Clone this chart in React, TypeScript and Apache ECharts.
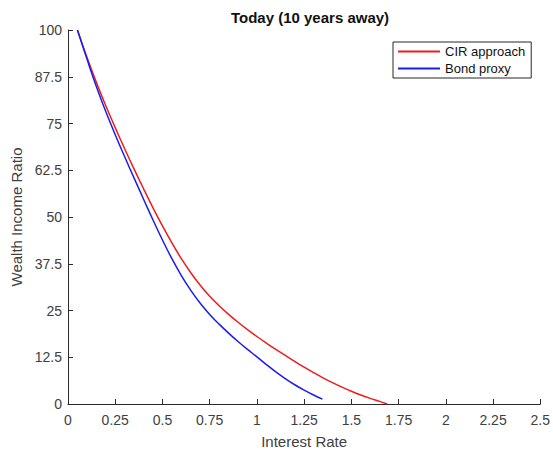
import React, { useEffect, useRef } from "react";
import * as echarts from "echarts";

const chartTitle = "Today (10 years away)";
const seriesNames = ["CIR approach", "Bond proxy"];

const cirRates = [0.05, 0.1, 0.15, 0.2, 0.25, 0.3, 0.35, 0.4, 0.45, 0.5, 0.55, 0.6, 0.65, 0.7, 0.75, 0.8, 0.85, 0.9, 0.95, 1.0, 1.05, 1.1, 1.15, 1.2, 1.25, 1.3, 1.35, 1.4, 1.45, 1.5, 1.55, 1.6, 1.65, 1.69];
const cirValues = [100, 92.75, 86.0, 79.75, 73.9, 68.25, 62.8, 57.55, 52.45, 47.6, 43.05, 38.85, 35.1, 31.75, 28.8, 26.25, 23.95, 21.85, 19.9, 18.05, 16.3, 14.6, 13.0, 11.4, 9.85, 8.4, 7.0, 5.7, 4.5, 3.4, 2.4, 1.5, 0.7, 0];

const bondRates = [0.05, 0.1, 0.15, 0.2, 0.25, 0.3, 0.35, 0.4, 0.45, 0.5, 0.55, 0.6, 0.65, 0.7, 0.75, 0.8, 0.85, 0.9, 0.95, 1.0, 1.05, 1.1, 1.15, 1.2, 1.25, 1.3, 1.347];
const bondValues = [100, 92.3, 84.9, 78.2, 72.0, 66.1, 60.4, 54.75, 49.2, 43.85, 38.85, 34.35, 30.4, 26.95, 23.95, 21.35, 18.95, 16.7, 14.6, 12.6, 10.55, 8.6, 6.8, 5.15, 3.7, 2.4, 1.3];

const xTicks = { min: 0, max: 2.5, interval: 0.25 };
const yTicks = { min: 0, max: 100, interval: 12.5 };

export default function App() {
  const ref = useRef<HTMLDivElement>(null);
  useEffect(() => {
    if (!ref.current) return;
    const chart = echarts.init(ref.current, null, { renderer: "svg" });
    const font = "Liberation Sans, Arial, sans-serif";
    const axisColor = "#2b2b2b";
    const textColor = "#404040";
    const red = "#ee1c1c";
    const blue = "#1c1cee";
    chart.setOption({
      animation: false,
      backgroundColor: "#ffffff",
      title: {
        text: chartTitle,
        left: 305,
        textAlign: "center",
        top: 5,
        textStyle: { fontFamily: font, fontSize: 15, fontWeight: "bold", color: "#111" },
      },
      legend: {
        orient: "vertical",
        left: 393,
        top: 42,
        padding: [3, 6, 3, 4],
        itemGap: 4,
        itemWidth: 42,
        itemHeight: 14,
        borderColor: "#262626",
        borderWidth: 1,
        backgroundColor: "#ffffff",
        itemStyle: { opacity: 0 },
        textStyle: { fontFamily: font, fontSize: 13, color: "#111" },
        data: seriesNames,
      },
      grid: { left: 68, right: 11, top: 30, bottom: 54, containLabel: false },
      xAxis: {
        type: "value",
        min: xTicks.min,
        max: xTicks.max,
        interval: xTicks.interval,
        name: "Interest Rate",
        nameLocation: "middle",
        nameGap: 30,
        nameTextStyle: { fontFamily: font, fontSize: 15, color: textColor },
        axisLine: { show: true, lineStyle: { color: axisColor, width: 1 } },
        axisTick: { show: true, inside: true, length: 5, lineStyle: { color: axisColor } },
        axisLabel: { fontFamily: font, fontSize: 14, color: textColor, margin: 9 },
        splitLine: { show: false },
      },
      yAxis: {
        type: "value",
        min: yTicks.min,
        max: yTicks.max,
        interval: yTicks.interval,
        name: "Wealth Income Ratio",
        nameLocation: "middle",
        nameGap: 41,
        nameTextStyle: { fontFamily: font, fontSize: 15, color: textColor },
        axisLine: { show: true, lineStyle: { color: axisColor, width: 1 } },
        axisTick: { show: true, inside: true, length: 5, lineStyle: { color: axisColor } },
        axisLabel: { fontFamily: font, fontSize: 14, color: textColor, margin: 6 },
        splitLine: { show: false },
      },
      series: [
        {
          name: seriesNames[0],
          type: "line",
          symbol: "none",
          smooth: 0.4,
          lineStyle: { color: red, width: 1.5 },
          itemStyle: { color: red },
          data: cirRates.map((x, i) => [x, cirValues[i]]),
        },
        {
          name: seriesNames[1],
          type: "line",
          symbol: "none",
          smooth: 0.4,
          lineStyle: { color: blue, width: 1.5 },
          itemStyle: { color: blue },
          data: bondRates.map((x, i) => [x, bondValues[i]]),
        },
      ],
    });
    return () => chart.dispose();
  }, []);
  return (
    <div
      ref={ref}
      style={{ position: "fixed", left: 0, top: 0, width: 553, height: 458 }}
    />
  );
}
